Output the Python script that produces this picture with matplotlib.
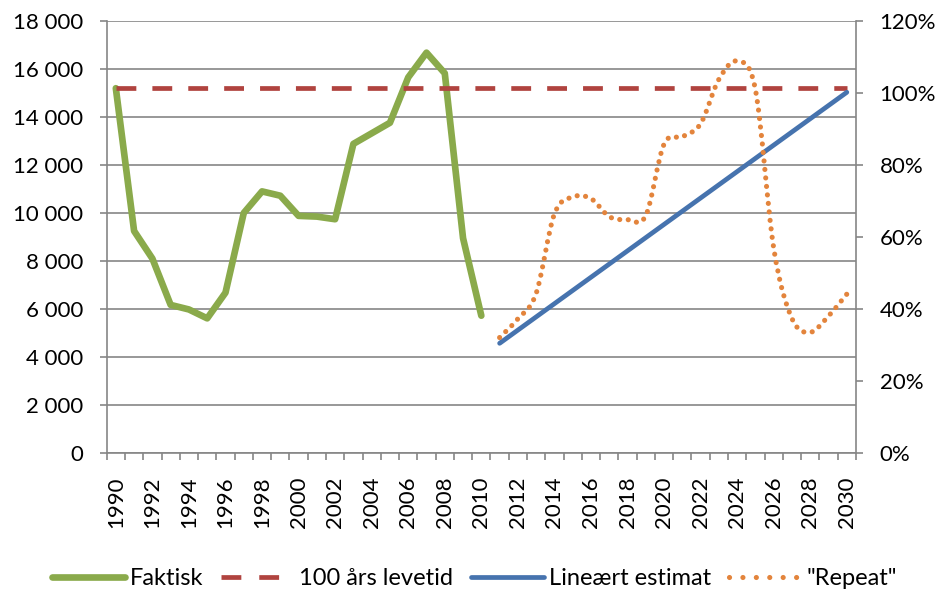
import numpy as np
import matplotlib.pyplot as plt
from matplotlib.path import Path
from matplotlib.patches import PathPatch
from matplotlib.lines import Line2D
from matplotlib.ticker import FuncFormatter, PercentFormatter

plt.rcParams['font.family'] = ['Lato', 'DejaVu Sans']

# data
years_actual = list(range(1990, 2011))
faktisk = [15200, 9250, 8100, 6170, 5980, 5610, 6680, 10000, 10900, 10720,
           9880, 9850, 9740, 12880, 13320, 13760, 15650, 16680, 15820, 8950, 5720]

years_all = list(range(1990, 2031))
levetid = [15200] * len(years_all)

lin_years = [2011, 2030]
lin_values = [4570, 15030]

years_repeat = list(range(2011, 2031))
repeat = [4810, 5590, 6650, 9960, 10670, 10600, 9850, 9720, 9890, 12870,
          13180, 13720, 15570, 16330, 15130, 8530, 5600, 5030, 5710, 6620]

c_green = '#8AAA4B'
c_red = '#B0433F'
c_blue = '#4673AE'
c_orange = '#E3843C'
c_grid = '#868686'


def smooth_path(xs, ys):
    # excel style smoothed line (catmull-rom as cubic bezier)
    pts = np.column_stack([xs, ys]).astype(float)
    n = len(pts)
    verts = [pts[0]]
    codes = [Path.MOVETO]
    for i in range(n - 1):
        p0 = pts[i - 1] if i > 0 else pts[i]
        p1, p2 = pts[i], pts[i + 1]
        p3 = pts[i + 2] if i + 2 < n else pts[i + 1]
        verts += [p1 + (p2 - p0) / 6, p2 - (p3 - p1) / 6, p2]
        codes += [Path.CURVE4] * 3
    return Path(verts, codes)


fig = plt.figure(figsize=(9.4, 5.93), dpi=100)
ax = fig.add_axes([0.1135, 0.2361, 0.7971, 0.7285])

dots = (0, (0.01, 1.65))
ax.plot(years_actual, faktisk, color=c_green, lw=4.8, solid_joinstyle='round',
        solid_capstyle='round', zorder=3)
ax.plot(years_all, levetid, color=c_red, lw=3.4, dashes=(4.2, 3.4),
        dash_capstyle='butt', zorder=4)
ax.plot(lin_years, lin_values, color=c_blue, lw=3.4, solid_capstyle='round', zorder=5)
ax.add_patch(PathPatch(smooth_path(years_repeat, repeat), fill=False,
                       edgecolor=c_orange, lw=3.7, linestyle=dots,
                       capstyle='round', zorder=6))

# legend handles
handles = [
    Line2D([], [], color=c_green, lw=4.8, solid_capstyle='round', label='Faktisk'),
    Line2D([], [], color=c_red, lw=3.4, dashes=(4.2, 3.8), label='100 års levetid'),
    Line2D([], [], color=c_blue, lw=3.4, solid_capstyle='round', label='Lineært estimat'),
    Line2D([], [], color=c_orange, lw=3.7, linestyle=(0, (0.01, 2.6)),
           dash_capstyle='round', label='"Repeat"'),
]

ax.set_xlim(1989.5, 2030.5)
ax.set_ylim(0, 18000)
ax.set_yticks(range(0, 18001, 2000))
ax.yaxis.set_major_formatter(FuncFormatter(lambda v, p: f'{v:,.0f}'.replace(',', ' ')))
ax.grid(axis='y', color=c_grid, lw=1.2)
ax.set_axisbelow(True)

ax.set_xticks(np.arange(1989.5, 2031, 1))
ax.set_xticklabels([])
ax.set_xticks(range(1990, 2031, 2), minor=True)
ax.set_xticklabels([str(y) for y in range(1990, 2031, 2)], minor=True, rotation=90)
ax.tick_params(axis='x', which='major', length=5, width=1.2, color=c_grid, direction='out')
ax.tick_params(axis='x', which='minor', length=0, pad=17, labelsize=16)
ax.tick_params(axis='y', length=5, width=1.2, color=c_grid, pad=12, labelsize=16)

for s in ['top', 'right']:
    ax.spines[s].set_visible(False)
for s in ['left', 'bottom']:
    ax.spines[s].set_color(c_grid)
    ax.spines[s].set_linewidth(1.2)

ax2 = ax.twinx()
ax2.set_ylim(0, 1.2)
ax2.set_yticks(np.arange(0, 1.21, 0.2))
ax2.yaxis.set_major_formatter(PercentFormatter(1.0, decimals=0))
ax2.tick_params(axis='y', length=5, width=1.2, color=c_grid, pad=12, labelsize=16)
for s in ['top', 'left', 'bottom']:
    ax2.spines[s].set_visible(False)
ax2.spines['right'].set_color(c_grid)
ax2.spines['right'].set_linewidth(1.2)

fig.legend(handles=handles, loc='center', bbox_to_anchor=(0.505, 0.024), ncol=4,
           frameon=False, fontsize=17, handlelength=3.1, handletextpad=0.2,
           columnspacing=0.75, borderaxespad=0)

fig.savefig('out.png', dpi=100)
